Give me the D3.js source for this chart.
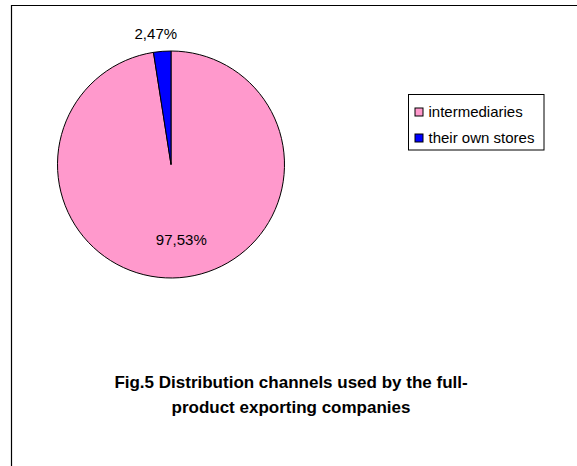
<!DOCTYPE html>
<html>
<head>
<meta charset="utf-8">
<script src="https://cdn.jsdelivr.net/npm/d3@7"></script>
<style>
  html, body { margin: 0; padding: 0; background: #fff; }
  svg { display: block; }
  text { font-family: "Liberation Sans", Arial, sans-serif; fill: #000; }
</style>
</head>
<body>
<svg id="chart" width="577" height="466"></svg>
<script>
// Distribution channels data
const categories = ["intermediaries", "their own stores"];
const shares = [97.53, 2.47];
const sliceColors = ["#FF99CC", "#0000FF"];
const valueLabels = ["97,53%", "2,47%"];
const titleLines = ["Fig.5 Distribution channels used by the full-", "product exporting companies"];

const svg = d3.select("#chart");

// Chart frame: only top and left edges are drawn
svg.append("path")
  .attr("d", "M11.5,466 V5.5 H577")
  .attr("fill", "none")
  .attr("stroke", "#000")
  .attr("stroke-width", 1.2);

const cx = 171, cy = 164.5, r = 113.5;

const pie = d3.pie().sort(null).value(d => d.value);
const arcs = pie(categories.map((c, i) => ({ name: c, value: shares[i], color: sliceColors[i], label: valueLabels[i] })));

const arc = d3.arc().innerRadius(0).outerRadius(r);
const g = svg.append("g").attr("transform", `translate(${cx},${cy})`);

g.selectAll("path.slice")
  .data(arcs)
  .join("path")
  .attr("class", "slice")
  .attr("d", arc)
  .attr("fill", d => d.data.color)
  .attr("stroke", "#000")
  .attr("stroke-width", 1)
  .attr("stroke-linejoin", "round");

// Value labels: large slice inside, small slice outside
const isLarge = d => d.endAngle - d.startAngle > Math.PI;
const labelRadius = d => (isLarge(d) ? r * 0.66 : r * 1.16);
g.selectAll("text.value")
  .data(arcs)
  .join("text")
  .attr("class", "value")
  .attr("text-anchor", "middle")
  .attr("dominant-baseline", "central")
  .attr("dx", d => (isLarge(d) ? 4.5 : -5))
  .style("font-size", "15px")
  .attr("transform", d => {
    const a = (d.startAngle + d.endAngle) / 2;
    const rr = labelRadius(d);
    return `translate(${Math.sin(a) * rr},${-Math.cos(a) * rr})`;
  })
  .text(d => d.data.label);

// Legend
const legend = svg.append("g").attr("transform", "translate(408.5,94.5)");
legend.append("rect")
  .attr("width", 135.5)
  .attr("height", 55.5)
  .attr("fill", "#fff")
  .attr("stroke", "#000")
  .attr("stroke-width", 1);

const rowY = d3.scalePoint().domain(categories).range([17.5, 43.5]);
const rows = legend.selectAll("g.row")
  .data(arcs)
  .join("g")
  .attr("class", "row")
  .attr("transform", d => `translate(0,${rowY(d.data.name)})`);
rows.append("rect")
  .attr("x", 6.5).attr("y", -4)
  .attr("width", 8).attr("height", 8)
  .attr("fill", d => d.data.color)
  .attr("stroke", "#000")
  .attr("stroke-width", 1);
rows.append("text")
  .attr("x", 20)
  .attr("y", 5)
  .style("font-size", "15px")
  .text(d => d.data.name);

// Caption
svg.append("text")
  .attr("text-anchor", "middle")
  .style("font-size", "17px")
  .style("font-weight", "bold")
  .selectAll("tspan")
  .data(titleLines)
  .join("tspan")
  .attr("x", 291)
  .attr("y", (d, i) => 388 + i * 25)
  .text(d => d);
</script>
</body>
</html>
